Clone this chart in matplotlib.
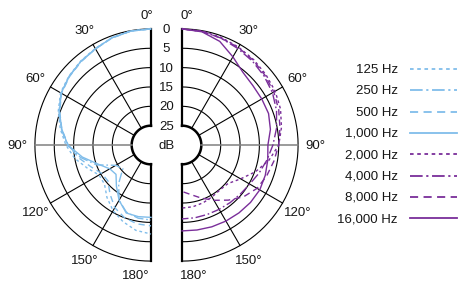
import numpy as np
import matplotlib.pyplot as plt

plt.rcParams['font.family'] = ['Liberation Sans', 'DejaVu Sans']

# polar response: attenuation in dB vs angle (deg), 0 = on-axis
angles = [0, 10, 20, 30, 40, 50, 60, 70, 80, 90, 100, 110, 120, 130, 140, 150, 160, 170, 180]

hz_125 = [0, 0.1, 0.5, 1.2, 1.7, 2.3, 3.0, 4.5, 6.2, 8.0, 10.0, 12.5, 14.5, 14.3, 12.3, 10.4, 8.9, 7.6, 7.0]
hz_250 = [0, 0.1, 0.5, 1.3, 1.8, 2.4, 3.2, 4.7, 6.5, 8.4, 11.5, 15.0, 19.5, 20.5, 17.0, 13.5, 11.5, 10.8, 10.6]
hz_500 = [0, 0.1, 0.6, 1.3, 1.9, 2.5, 3.3, 4.9, 6.6, 8.6, 11.0, 13.5, 15.3, 15.5, 13.5, 11.3, 10.0, 9.3, 9.1]
hz_1000 = [0, 0.1, 0.5, 1.3, 1.8, 2.4, 3.2, 4.8, 6.6, 8.5, 12.0, 15.5, 17.7, 18.2, 16.1, 13.5, 11.3, 11.2, 11.3]

hz_2000 = [0, 0.1, 0.4, 0.8, 1.2, 1.7, 2.2, 2.9, 3.9, 5.0, 7.2, 9.8, 12.5, 14.5, 14.8, 14.5, 14.1, 13.8, 13.7]
hz_4000 = [0, 0.2, 0.6, 1.2, 1.7, 2.3, 3.0, 4.0, 5.2, 6.5, 7.7, 8.8, 9.8, 10.3, 10.6, 10.8, 10.9, 10.9, 10.9]
hz_8000 = [0, 0.2, 0.6, 0.9, 1.4, 2.0, 2.6, 3.4, 4.3, 5.0, 5.9, 6.7, 7.6, 9.2, 11.4, 13.5, 15.4, 17.0, 18.0]
hz_16000 = [0, 0.3, 1.5, 3.7, 5.5, 6.1, 6.2, 6.2, 6.8, 7.8, 7.5, 7.1, 6.8, 6.9, 7.1, 7.3, 7.5, 7.7, 7.8]

ring_db = [0, 5, 10, 15, 20, 25]
spoke_angles = [30, 60, 120, 150]
angle_labels = [30, 60, 90, 120, 150]
legend_labels = ['125 Hz', '250 Hz', '500 Hz', '1,000 Hz',
                 '2,000 Hz', '4,000 Hz', '8,000 Hz', '16,000 Hz']

BLUE = '#80bdea'
PURPLE = '#7a2e9a'
TXT = '#161616'
styles = [(0, (2, 2)), (0, (7, 2, 1.2, 2)), (0, (4.5, 3)), '-']

W, H = 474, 286
fig = plt.figure(figsize=(W / 100, H / 100), dpi=100)
ax = fig.add_axes([0, 0, 1, 1])
ax.set_xlim(0, W)
ax.set_ylim(H, 0)
ax.axis('off')

CY = 145
CXL, CXR = 151, 182
K = 3.87      # px per dB
FLOOR = 30    # dB at the centre


def xy(side, theta, att):
    t = np.radians(np.asarray(theta, dtype=float))
    r = (FLOOR - np.asarray(att, dtype=float)) * K
    cx = CXL if side < 0 else CXR
    return cx + side * r * np.sin(t), CY - r * np.cos(t)


th = np.linspace(0, 180, 181)
for side in (-1, 1):
    for db in ring_db[:-1]:
        ax.plot(*xy(side, th, np.full_like(th, db)), color='black', lw=0.8)
    ax.plot(*xy(side, th, np.full_like(th, 25)), color='black', lw=1.8)
    for a in spoke_angles:
        ax.plot(*xy(side, [a, a], [25, 0]), color='black', lw=0.8)
    ax.plot(*xy(side, [90, 90], [25, 0]), color='#808080', lw=1.1)
    for a in (0, 180):
        ax.plot(*xy(side, [a, a], [25, 0]), color='black', lw=1.6)

for vals, ls in zip([hz_125, hz_250, hz_500, hz_1000], styles):
    ax.plot(*xy(-1, angles, vals), color=BLUE, lw=1.0, ls=ls, zorder=3)
for vals, ls in zip([hz_2000, hz_4000, hz_8000, hz_16000], styles):
    ax.plot(*xy(1, angles, vals), color=PURPLE, lw=1.0, ls=ls, zorder=3)

# dB scale between the two halves
mid = (CXL + CXR) / 2
for db in ring_db:
    ax.text(mid, CY - (FLOOR - db) * K + 1, str(db), ha='center', va='center',
            fontsize=9.5, color=TXT)
ax.text(mid, CY + 1, 'dB', ha='center', va='center', fontsize=9.5, color=TXT)

# angle labels
for a in angle_labels:
    for side in (-1, 1):
        x, y = xy(side, a, -4.4)
        ax.text(x, y + 1, f'{a}°', ha='center', va='center', fontsize=9.5, color=TXT)
ax.text(CXL + 2, 16, '0°', ha='right', va='center', fontsize=9.5, color=TXT)
ax.text(CXR - 1, 16, '0°', ha='left', va='center', fontsize=9.5, color=TXT)
ax.text(CXL - 2, 276, '180°', ha='right', va='center', fontsize=9.5, color=TXT)
ax.text(CXR - 2, 276, '180°', ha='left', va='center', fontsize=9.5, color=TXT)

# legend
colors = [BLUE] * 4 + [PURPLE] * 4
for i, (lab, c) in enumerate(zip(legend_labels, colors)):
    y = 69 + i * 21.3
    ax.text(398, y + 1, lab, ha='right', va='center', fontsize=9.5, color=TXT)
    ax.plot([410, 457], [y, y], color=c, lw=1.3, ls=styles[i % 4])

fig.savefig('out.png', dpi=100)
